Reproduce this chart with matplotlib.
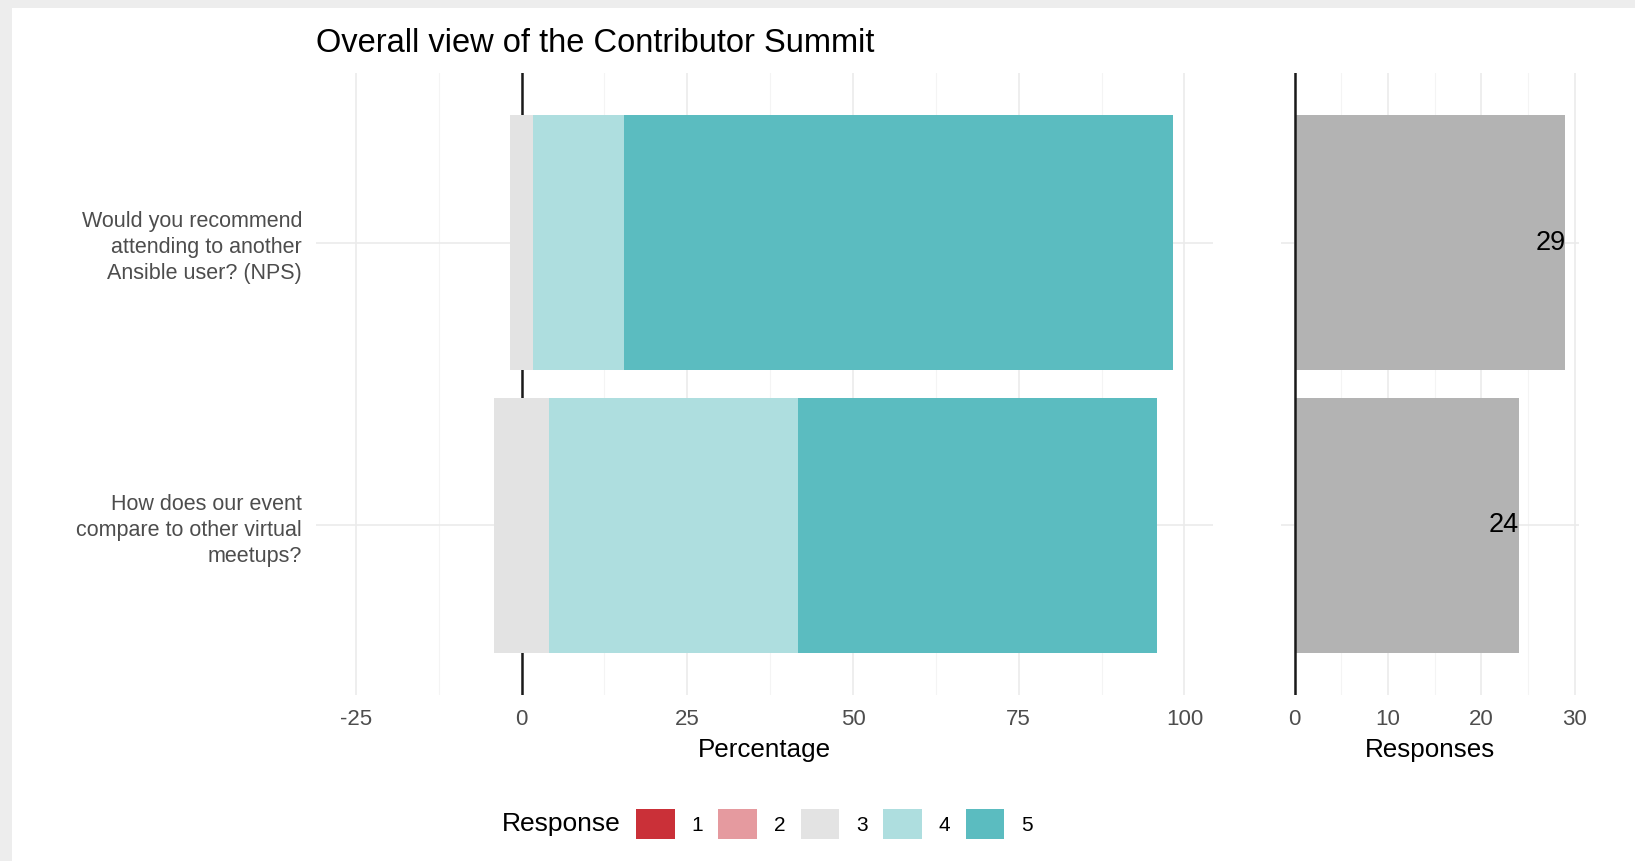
import numpy as np
import matplotlib
matplotlib.use('Agg')
import matplotlib.pyplot as plt
from matplotlib.patches import Patch, Rectangle

matplotlib.rcParams['font.family'] = ['Liberation Sans', 'DejaVu Sans']

# data
questions = ['Would you recommend\nattending to another\nAnsible user? (NPS)',
             'How does our event\ncompare to other virtual\nmeetups?']
levels = ['1', '2', '3', '4', '5']
counts_q1 = [0, 0, 1, 4, 24]
counts_q2 = [0, 0, 2, 9, 13]
totals = [29, 24]
level_colors = ['#CA3038', '#E59A9F', '#E3E3E3', '#AEDEDF', '#5BBCC0']

W, H = 1635, 861
fig = plt.figure(figsize=(W / 100, H / 100), dpi=100)
fig.patch.set_facecolor('#EDEDED')
fig.patches.append(Rectangle((12 / W, 0), 1, 1 - 8 / H, transform=fig.transFigure,
                             facecolor='white', edgecolor='none', zorder=-5))


def px_axes(x0, y0, x1, y1):
    return fig.add_axes([x0 / W, 1 - y1 / H, (x1 - x0) / W, (y1 - y0) / H])


def style(ax, major, minor):
    ax.set_facecolor('none')
    for s in ax.spines.values():
        s.set_visible(False)
    ax.set_xticks(major)
    ax.set_xticks(minor, minor=True)
    ax.set_yticks([1, 2])
    ax.grid(True, which='major', color='#EBEBEB', linewidth=1.2)
    ax.grid(True, which='minor', axis='x', color='#F4F4F4', linewidth=0.8)
    ax.set_axisbelow(True)
    ax.tick_params(length=0, labelsize=16, colors='#4D4D4D', pad=10)
    ax.tick_params(which='minor', length=0)


# left panel: diverging stacked percentage bars
ax = px_axes(316, 73, 1213, 695)
ypos = [2, 1]
for y, c in zip(ypos, [counts_q1, counts_q2]):
    n = sum(c)
    pct = [v / n * 100 for v in c]
    left = -(pct[0] + pct[1] + pct[2] / 2)
    for p, col in zip(pct, level_colors):
        if p > 0:
            ax.barh(y, p, left=left, height=0.9, color=col, edgecolor='none', zorder=2)
        left += p
ax.axvline(0, color='#1A1A1A', linewidth=1.8, zorder=1)
ax.set_xlim(-31, 104.3)
ax.set_ylim(0.4, 2.6)
style(ax, [-25, 0, 25, 50, 75, 100], [-12.5, 12.5, 37.5, 62.5, 87.5])
ax.set_xticklabels(['-25', '0', '25', '50', '75', '100'])
ax.set_yticklabels([questions[1], questions[0]], linespacing=1.3, fontsize=15.5)
ax.set_xlabel('Percentage', fontsize=18.7, color='black', labelpad=6)

# right panel: response counts
ax2 = px_axes(1281, 73, 1579, 695)
ax2.barh(ypos, totals, height=0.9, color='#B3B3B3', edgecolor='none', zorder=2)
for y, t in zip(ypos, totals):
    ax2.text(t, y, str(t), ha='right', va='center', fontsize=19.5, color='black', zorder=3)
ax2.axvline(0, color='#1A1A1A', linewidth=1.8, zorder=3)
ax2.set_xlim(-1.45, 30.45)
ax2.set_ylim(0.4, 2.6)
style(ax2, [0, 10, 20, 30], [5, 15, 25])
ax2.set_yticklabels([])
ax2.set_xlabel('Responses', fontsize=18.7, color='black', labelpad=6)

fig.text(316 / W, 1 - 43 / H, 'Overall view of the Contributor Summit',
         fontsize=23.5, ha='left', va='center')

# legend
handles = [Patch(facecolor=c, edgecolor='none') for c in level_colors]
fig.text(621 / W, 1 - 824 / H, 'Response', fontsize=19, ha='right', va='center')
fig.legend(handles, levels, ncol=5, loc='center left', bbox_to_anchor=(636 / W, 1 - 824 / H),
           frameon=False, fontsize=15, handlelength=1.85, handleheight=1.8,
           handletextpad=0.8, columnspacing=0.75, borderpad=0, borderaxespad=0)

fig.savefig('out.png', dpi=100)
